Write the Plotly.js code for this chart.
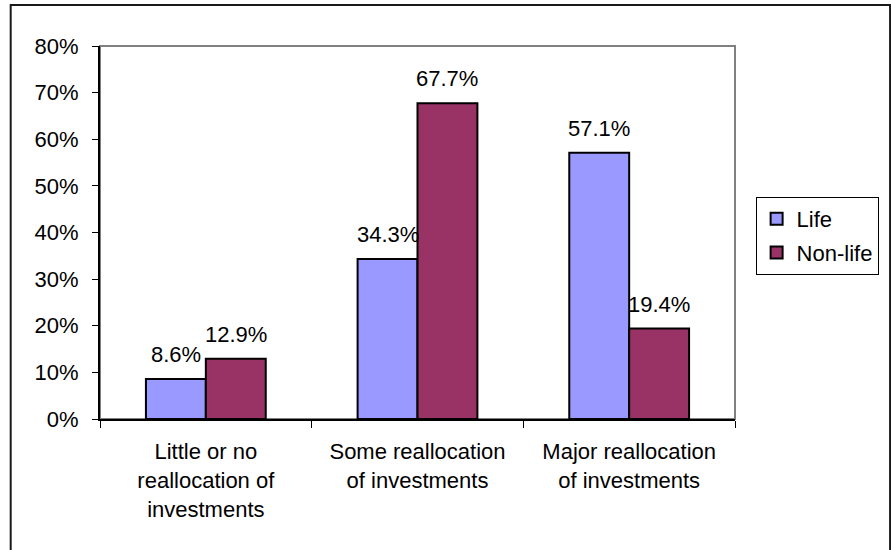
<!DOCTYPE html>
<html>
<head>
<meta charset="utf-8">
<script src="https://cdn.plot.ly/plotly-3.0.1.min.js"></script>
<style>html,body{margin:0;padding:0;background:#fff;}#chart{width:891px;height:550px;}</style>
</head>
<body>
<div id="chart"></div>
<script>
const categories = ["Little or no<br>reallocation of<br>investments", "Some reallocation<br>of investments", "Major reallocation<br>of investments"];
const lifeValues = [8.6, 34.3, 57.1];
const nonLifeValues = [12.9, 67.7, 19.4];
const seriesNames = ["Life", "Non-life"];
const tickValues = [0, 10, 20, 30, 40, 50, 60, 70, 80];

const FONT = "Liberation Sans, Arial, sans-serif";
const FS = 22;
const BARGAP = 0.434;

function barTrace(name, values, color, group) {
  return {
    type: "bar", name: name, x: categories, y: values, legendgroup: group,
    marker: {color: color, line: {color: "#000000", width: 2}},
    hoverinfo: "none"
  };
}

const data = [
  barTrace(seriesNames[0], lifeValues, "#9999FF", "g1"),
  barTrace(seriesNames[1], nonLifeValues, "#993366", "g2")
];

// value labels placed over each bar via the category axis
const barHalf = (1 - BARGAP) / 4;
const annotations = [];
[lifeValues, nonLifeValues].forEach((vals, s) => {
  vals.forEach((v, i) => {
    annotations.push({
      xref: "x", yref: "y", x: i + (s === 0 ? -barHalf : barHalf), y: v,
      text: v.toFixed(1) + "%", showarrow: false,
      xanchor: "center", yanchor: "bottom", yshift: 10,
      font: {family: FONT, size: FS, color: "#000"}
    });
  });
});

const L = 100, R = 747, T = 46, B = 419, W = 891, H = 550;
const pw = R - L, ph = B - T;
const px = x => (x - L) / pw;
const py = y => (B - y) / ph;

const layout = {
  width: W, height: H,
  margin: {l: L, r: W - R, t: T, b: H - B, pad: 0},
  paper_bgcolor: "#fff", plot_bgcolor: "#fff",
  font: {family: FONT, size: FS, color: "#000"},
  barmode: "group", bargap: BARGAP, bargroupgap: 0,
  showlegend: true,
  legend: {
    x: px(768), y: py(197), xanchor: "left", yanchor: "top",
    bordercolor: "#000", borderwidth: 1, bgcolor: "#fff",
    font: {family: FONT, size: FS, color: "#000"},
    traceorder: "grouped", tracegroupgap: 2, itemwidth: 30
  },
  annotations: annotations,
  xaxis: {
    type: "category", showgrid: false, zeroline: false,
    showline: true, linecolor: "#000", linewidth: 2,
    ticks: "outside", tickson: "boundaries", ticklen: 7, tickcolor: "#000", tickwidth: 1,
    ticklabelstandoff: 12,
    tickfont: {family: FONT, size: FS, color: "#000"},
    fixedrange: true
  },
  yaxis: {
    range: [0, 80], tickvals: tickValues, ticktext: tickValues.map(v => v + "%"),
    showgrid: false, zeroline: false,
    showline: true, linecolor: "#000", linewidth: 2,
    ticks: "outside", ticklen: 6, tickcolor: "#000", tickwidth: 1,
    ticklabelstandoff: 9,
    tickfont: {family: FONT, size: FS, color: "#000"},
    fixedrange: true
  },
  shapes: [
    {type: "rect", xref: "paper", yref: "paper", x0: 0, x1: 1, y0: 0, y1: 1,
     line: {color: "#808080", width: 2}, layer: "below"},
    {type: "rect", xref: "paper", yref: "paper", x0: px(9), x1: px(905), y0: py(565), y1: py(5),
     line: {color: "#1a1a1a", width: 2}, layer: "below"}
  ]
};

Plotly.newPlot("chart", data, layout, {staticPlot: true, displayModeBar: false});
</script>
</body>
</html>
